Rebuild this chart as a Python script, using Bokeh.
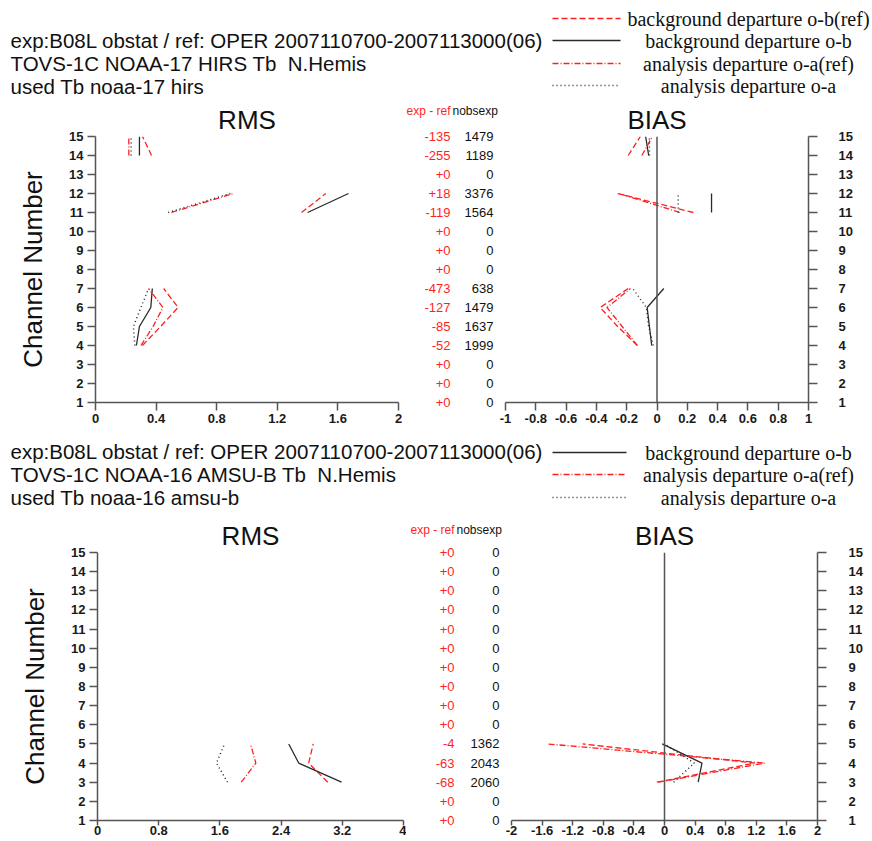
from bokeh.plotting import figure
from bokeh.layouts import column, row
from bokeh.models import Range1d, FixedTicker, NumeralTickFormatter, Span
from bokeh.core.properties import value
from bokeh.embed import file_html
from bokeh.resources import INLINE

nan = float("nan")
channels = list(range(1, 16))
column_titles = ["exp - ref", "nobsexp"]

# ---------------- top panel: NOAA-17 HIRS ----------------
top_header = ["exp:B08L obstat / ref: OPER 2007110700-2007113000(06)",
              "TOVS-1C NOAA-17 HIRS Tb \u00a0N.Hemis",
              "used Tb noaa-17 hirs"]
top_legend = ["background departure o-b(ref)", "background departure o-b",
              "analysis departure o-a(ref)", "analysis departure o-a"]
top_rms_ticks = [0, 0.4, 0.8, 1.2, 1.6, 2]
top_bias_ticks = [-1, -0.8, -0.6, -0.4, -0.2, 0, 0.2, 0.4, 0.6, 0.8, 1]
#                 ch1  ch2  ch3  ch4    ch5    ch6    ch7    ch8  ch9  ch10 ch11   ch12   ch13 ch14   ch15
top_rms_obref  = [nan, nan, nan, 0.31,  0.43,  0.545, 0.45,  nan, nan, nan, 1.36,  1.52,  nan, 0.37,  0.31]
top_rms_ob     = [nan, nan, nan, 0.27,  0.29,  0.365, 0.375, nan, nan, nan, 1.40,  1.67,  nan, 0.29,  0.29]
top_rms_oaref  = [nan, nan, nan, 0.30,  0.38,  0.445, 0.35,  nan, nan, nan, 0.50,  0.91,  nan, 0.22,  0.22]
top_rms_oa     = [nan, nan, nan, 0.26,  0.25,  0.30,  0.35,  nan, nan, nan, 0.48,  0.89,  nan, 0.235, 0.235]
top_bias_obref = [nan, nan, nan, -0.13, -0.26, -0.375, -0.19, nan, nan, nan, 0.24, -0.26, nan, -0.19, -0.11]
top_bias_ob    = [nan, nan, nan, -0.035, -0.05, -0.065, 0.045, nan, nan, nan, 0.36, 0.36, nan, -0.055, -0.075]
top_bias_oaref = [nan, nan, nan, -0.13, -0.23, -0.33, -0.175, nan, nan, nan, 0.15, -0.25, nan, -0.10, -0.03]
top_bias_oa    = [nan, nan, nan, -0.025, -0.055, -0.07, -0.16, nan, nan, nan, 0.14, 0.14, nan, -0.05, -0.05]
top_exp_ref = [0, 0, 0, -52, -85, -127, -473, 0, 0, 0, -119, 18, 0, -255, -135]
top_nobs    = [0, 0, 0, 1999, 1637, 1479, 638, 0, 0, 0, 1564, 3376, 0, 1189, 1479]

# ---------------- bottom panel: NOAA-16 AMSU-B ----------------
bot_header = ["exp:B08L obstat / ref: OPER 2007110700-2007113000(06)",
              "TOVS-1C NOAA-16 AMSU-B Tb \u00a0N.Hemis",
              "used Tb noaa-16 amsu-b"]
bot_legend = ["background departure o-b", "analysis departure o-a(ref)", "analysis departure o-a"]
bot_rms_ticks = [0, 0.8, 1.6, 2.4, 3.2, 4]
bot_bias_ticks = [-2, -1.6, -1.2, -0.8, -0.4, 0, 0.4, 0.8, 1.2, 1.6, 2]
bot_rms_obref  = [nan, nan, 3.01, 2.76, 2.82, nan, nan, nan, nan, nan, nan, nan, nan, nan, nan]
bot_rms_ob     = [nan, nan, 3.19, 2.63, 2.50, nan, nan, nan, nan, nan, nan, nan, nan, nan, nan]
bot_rms_oaref  = [nan, nan, 1.88, 2.07, 2.00, nan, nan, nan, nan, nan, nan, nan, nan, nan, nan]
bot_rms_oa     = [nan, nan, 1.70, 1.555, 1.66, nan, nan, nan, nan, nan, nan, nan, nan, nan, nan]
bot_bias_obref = [nan, nan, -0.10, 1.18, -1.07, nan, nan, nan, nan, nan, nan, nan, nan, nan, nan]
bot_bias_ob    = [nan, nan, 0.44, 0.49, -0.03, nan, nan, nan, nan, nan, nan, nan, nan, nan, nan]
bot_bias_oaref = [nan, nan, -0.08, 1.31, -1.53, nan, nan, nan, nan, nan, nan, nan, nan, nan, nan]
bot_bias_oa    = [nan, nan, 0.12, 0.39, 0.0, nan, nan, nan, nan, nan, nan, nan, nan, nan, nan]
bot_exp_ref = [0, 0, -68, -63, -4, 0, 0, 0, 0, 0, 0, 0, 0, 0, 0]
bot_nobs    = [0, 0, 2060, 2043, 1362, 0, 0, 0, 0, 0, 0, 0, 0, 0, 0]

RED = "#ff1f1f"
DARK = "#2a2a2a"
AXC = "#555555"
STYLES = {
    "obref": dict(line_color=RED, line_dash="6 3", line_width=1.3),
    "ob": dict(line_color=DARK, line_dash="solid", line_width=1.3),
    "oaref": dict(line_color=RED, line_dash="6 2 1 2", line_width=1.3),
    "oa": dict(line_color=DARK, line_dash="1 3", line_width=1.5),
}
SANS = "Liberation Sans"
SERIF = "Liberation Serif"


def blank_fig(width, height):
    p = figure(width=width, height=height, x_range=Range1d(0, width), y_range=Range1d(height, 0),
               toolbar_location=None, output_backend="svg", min_border=0,
               x_axis_location=None, y_axis_location=None, outline_line_color=None)
    p.grid.visible = False
    return p


def header_fig(height, lines, line_ys, legend_labels, legend_keys, legend_ys, lx0, lx1):
    p = blank_fig(872, height)
    p.text(x=[10] * len(lines), y=line_ys, text=lines, text_font=value(SANS),
           text_font_size="20.5px", text_baseline="middle", text_align="left", text_color="#111")
    for key, ly in zip(legend_keys, legend_ys):
        p.line([lx0, lx1], [ly, ly], **STYLES[key])
    p.text(x=[748] * len(legend_labels), y=legend_ys, text=legend_labels, text_font=value(SERIF),
           text_font_size="20px", text_baseline="middle", text_align="center", text_color="#111")
    return p


def heading_fig(width, height, split, y):
    p = blank_fig(width, height)
    p.text(x=[split - 2], y=[y], text=[column_titles[0]], text_font=value(SANS),
           text_font_size="12px", text_baseline="middle", text_align="right", text_color=RED)
    p.text(x=[split], y=[y], text=[column_titles[1]], text_font=value(SANS),
           text_font_size="12px", text_baseline="middle", text_align="left", text_color="#111")
    return p


def style_axis(ax, tick_out, standoff):
    ax.axis_line_color = AXC
    ax.axis_line_width = 1.5
    ax.major_tick_line_color = AXC
    ax.major_tick_line_width = 1.5
    ax.major_tick_in = 0
    ax.major_tick_out = tick_out
    ax.minor_tick_line_color = None
    ax.major_label_text_font = SANS
    ax.major_label_text_font_size = "13px"
    ax.major_label_text_font_style = "bold"
    ax.major_label_text_color = "#1a1a1a"
    ax.major_label_standoff = standoff


def column_fig(height, btop, bbot, width, border_left, labels, color):
    """A narrow plot whose left axis tick labels carry one text column (per channel)."""
    p = figure(width=width, height=height, x_range=Range1d(0, 1), y_range=Range1d(1, 15),
               toolbar_location=None, output_backend="svg",
               min_border_left=border_left, min_border_right=0,
               min_border_top=btop, min_border_bottom=bbot,
               x_axis_location=None, y_axis_location="left", outline_line_color=None)
    p.grid.visible = False
    ax = p.yaxis[0]
    ax.ticker = FixedTicker(ticks=channels)
    ax.major_label_overrides = {c: lab for c, lab in zip(channels, labels)}
    ax.axis_line_color = None
    ax.major_tick_line_color = None
    ax.minor_tick_line_color = None
    ax.major_tick_in = 0
    ax.major_tick_out = 0
    ax.major_label_standoff = 0
    ax.major_label_text_font = SANS
    ax.major_label_text_font_size = "13px"
    ax.major_label_text_font_style = "normal"
    ax.major_label_text_color = color
    return p


def panel(height, btop, bbot, geo, rms_max, rms_ticks, bias_lim, bias_ticks,
          rms_series, bias_series, exp_ref, nobs, xtick_out, xstandoff, ystandoff_r,
          head_h, head_y):
    rl, rf, rr, aw, bw, bl, bf, br = geo
    pr = figure(width=rl + rf + rr, height=height, x_range=Range1d(0, rms_max), y_range=Range1d(1, 15),
                toolbar_location=None, output_backend="svg",
                min_border_left=rl, min_border_right=rr, min_border_top=btop, min_border_bottom=bbot,
                outline_line_color=None, title="RMS")
    pb = figure(width=bl + bf + br, height=height, x_range=Range1d(-bias_lim, bias_lim),
                y_range=Range1d(1, 15),
                toolbar_location=None, output_backend="svg", y_axis_location="right",
                min_border_left=bl, min_border_right=br, min_border_top=btop, min_border_bottom=bbot,
                outline_line_color=None, title="BIAS")
    for p in (pr, pb):
        p.grid.visible = False
        p.title.align = "center"
        p.title.text_font = SANS
        p.title.text_font_size = "26px"
        p.title.text_font_style = "normal"
        p.title.text_color = "#111"
        p.title.standoff = 3
        p.yaxis.ticker = FixedTicker(ticks=channels)
        p.xaxis.formatter = NumeralTickFormatter(format="0.[0]")
        style_axis(p.xaxis[0], xtick_out, xstandoff)
    pr.xaxis.ticker = FixedTicker(ticks=rms_ticks)
    pb.xaxis.ticker = FixedTicker(ticks=bias_ticks)
    style_axis(pr.yaxis[0], 8, 4)
    style_axis(pb.yaxis[0], 9, ystandoff_r)
    pr.yaxis.axis_label = "Channel Number"
    pr.yaxis.axis_label_text_font = SANS
    pr.yaxis.axis_label_text_font_size = "26px"
    pr.yaxis.axis_label_text_font_style = "normal"
    pr.yaxis.axis_label_text_color = "#111"
    pr.yaxis.axis_label_standoff = 18
    pb.add_layout(Span(location=0, dimension="height", line_color=AXC, line_width=1.5))
    for key, xs in rms_series.items():
        pr.line(xs, channels, **STYLES[key])
    for key, xs in bias_series.items():
        pb.line(xs, channels, **STYLES[key])

    # text columns: heading strip above two narrow plots (exp - ref in red, nobsexp in black)
    hd = heading_fig(aw + bw, head_h, aw, head_y)
    pd = column_fig(height - head_h, btop - head_h, bbot, aw, aw - 2,
                    [f"{v:+d}" for v in exp_ref], RED)
    pn = column_fig(height - head_h, btop - head_h, bbot, bw, bw - 6,
                    [str(v) for v in nobs], "#111")
    return row(pr, column(hd, row(pd, pn, spacing=0), spacing=0), pb, spacing=0)


# geometry: rms left border, rms frame, rms right border, col-A width, col-B width,
#           bias left border, bias frame, bias right border  (sums to 872)
geo_top = (95, 303, 4, 50, 47, 6, 303, 64)
geo_bot = (97, 306, 3, 50, 49, 6, 306, 55)

h1 = header_fig(100, top_header, [40, 63, 86], top_legend,
                ["obref", "ob", "oaref", "oa"], [18, 40, 63, 85], 552, 620)
p1 = panel(330, 36, 28, geo_top, 2, top_rms_ticks, 1, top_bias_ticks,
           {"obref": top_rms_obref, "ob": top_rms_ob, "oaref": top_rms_oaref, "oa": top_rms_oa},
           {"obref": top_bias_obref, "ob": top_bias_ob, "oaref": top_bias_oaref, "oa": top_bias_oa},
           top_exp_ref, top_nobs, 8, 3, 21, 26, 10)
h2 = header_fig(82, bot_header, [21, 44, 67], bot_legend,
                ["ob", "oaref", "oa"], [22, 44, 67], 552, 626)
p2 = panel(329, 40, 21, geo_bot, 4, bot_rms_ticks, 2, bot_bias_ticks,
           {"obref": bot_rms_obref, "ob": bot_rms_ob, "oaref": bot_rms_oaref, "oa": bot_rms_oa},
           {"obref": bot_bias_obref, "ob": bot_bias_ob, "oaref": bot_bias_oaref, "oa": bot_bias_oa},
           bot_exp_ref, bot_nobs, 5, 0, 22, 28, 17)

layout = column(h1, p1, h2, p2, spacing=0)
open("out.html", "w").write(file_html(layout, INLINE))
